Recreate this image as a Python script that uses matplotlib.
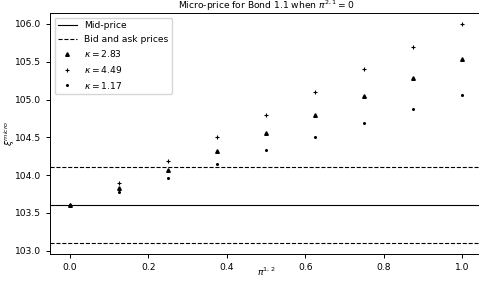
import matplotlib
matplotlib.use("Agg")
import matplotlib.pyplot as plt

# data
pi12 = [0.0, 0.125, 0.25, 0.375, 0.5, 0.625, 0.75, 0.875, 1.0]
micro_k283 = [103.6, 103.83, 104.07, 104.32, 104.56, 104.80, 105.04, 105.28, 105.53]
micro_k449 = [103.6, 103.89, 104.19, 104.50, 104.80, 105.10, 105.40, 105.70, 106.00]
micro_k117 = [103.6, 103.77, 103.96, 104.14, 104.33, 104.51, 104.69, 104.88, 105.06]
mid_price = 103.6
bid_price = 103.1
ask_price = 104.1

fs = 6.6
plt.rcParams['font.size'] = fs
plt.rcParams['axes.linewidth'] = 0.7
plt.rcParams['xtick.major.width'] = 0.7
plt.rcParams['ytick.major.width'] = 0.7
plt.rcParams['xtick.major.size'] = 2.8
plt.rcParams['ytick.major.size'] = 2.8

fig = plt.figure(figsize=(4.79, 2.82), dpi=100)
ax = fig.add_axes([0.1044, 0.0993, 0.902, 0.8546])

ax.axhline(mid_price, color='black', lw=0.8, label='Mid-price')
ax.axhline(bid_price, color='black', lw=0.8, ls='--', label='Bid and ask prices')
ax.axhline(ask_price, color='black', lw=0.8, ls='--')

ax.plot(pi12, micro_k283, '^', color='black', ms=2.6, ls='none', label=r'$\kappa = 2.83$')
ax.plot(pi12, micro_k449, '+', color='black', ms=2.4, mew=0.8, ls='none', label=r'$\kappa = 4.49$')
ax.plot(pi12, micro_k117, '.', color='black', ms=2.4, ls='none', label=r'$\kappa = 1.17$')

ax.set_title(r'Micro-price for Bond 1.1 when $\pi^{2,1} = 0$', fontsize=fs, pad=1.5)
ax.set_xlabel(r'$\pi^{1,2}$', labelpad=-4.5)
ax.set_ylabel(r'$\xi^{micro}$', labelpad=-1.5)
ax.legend(loc='upper left', fontsize=fs)

fig.savefig('out.png', dpi=100)
